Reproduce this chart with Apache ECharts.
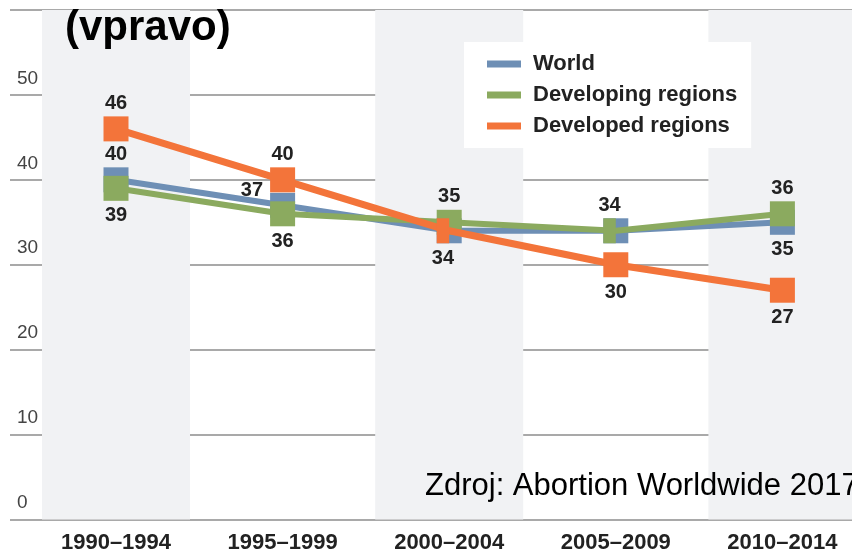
<!DOCTYPE html>
<html>
<head>
<meta charset="utf-8">
<script src="https://cdn.jsdelivr.net/npm/echarts@6/dist/echarts.min.js"></script>
<style>html,body{margin:0;padding:0;background:#fff;}#c{width:852px;height:556px;}</style>
</head>
<body>
<div id="c"></div>
<script>
const categories = ['1990–1994', '1995–1999', '2000–2004', '2005–2009', '2010–2014'];
const world = [40, 37, 34, 34, 35];
const developing = [39, 36, 35, 34, 36];
const developed = [46, 40, 34, 30, 27];
const bandTop = [60, '-', 60, '-', 60];
const yMin = 0, yMax = 60, yStep = 10;
const worldLabelPos = ['top', 'left', null, null, 'bottom'];
const developingLabelPos = ['bottom', 'bottom', 'top', 'top', 'top'];
const developedLabelPos = ['top', 'top', 'bottom', 'bottom', 'bottom'];

const FONT = '"Liberation Sans", Arial, sans-serif';
const C_WORLD = '#6E8FB5', C_DEV = '#8BAA5F', C_DEVD = '#F3743A';
const halfLeft = 'path://M0,0 L1,0 L1,2 L0,2 Z';

function items(values, positions, special) {
  return values.map(function (v, i) {
    const p = positions[i];
    const it = { value: v };
    if (p) {
      it.label = {
        show: true, position: p,
        distance: p === 'top' ? 3 : (p === 'left' ? 7 : 5),
        offset: p === 'left' ? [0, -15] : [0, 0]
      };
    } else {
      it.label = { show: false };
    }
    if (special && special[i]) Object.assign(it, special[i]);
    return it;
  });
}

const labelStyle = { fontFamily: FONT, fontWeight: 'bold', fontSize: 20, color: '#222' };

const chart = echarts.init(document.getElementById('c'), null, { renderer: 'canvas' });
chart.setOption({
  animation: false,
  backgroundColor: '#fff',
  grid: [
    { left: 32.7, right: -13.7, top: 10, bottom: 36.5, outerBoundsMode: 'none', containLabel: false },
    { left: 10, right: 0, top: 10, bottom: 36.5, outerBoundsMode: 'none', containLabel: false }
  ],
  xAxis: [
    {
      type: 'category', gridIndex: 0, data: categories, boundaryGap: true,
      axisLine: { show: false }, axisTick: { show: false },
      axisLabel: { fontFamily: FONT, fontWeight: 'bold', fontSize: 22, color: '#222', margin: 12 },
      splitLine: { show: false }
    },
    { type: 'value', gridIndex: 1, show: false }
  ],
  yAxis: [
    { type: 'value', gridIndex: 0, min: yMin, max: yMax, show: false, splitLine: { show: false } },
    {
      type: 'value', gridIndex: 1, min: yMin, max: yMax, interval: yStep,
      axisLine: { show: false }, axisTick: { show: false },
      axisLabel: {
        inside: true, margin: 7, fontFamily: FONT, fontSize: 19, color: '#444',
        verticalAlign: 'bottom', padding: [0, 0, 7, 0]
      },
      splitLine: { show: true, lineStyle: { color: '#8c8c8c', width: 1.5 } }
    }
  ],
  legend: {
    data: ['World', 'Developing regions', 'Developed regions'],
    orient: 'vertical', left: 464, top: 42,
    padding: [11, 14, 11, 23], itemGap: 9,
    itemWidth: 34, itemHeight: 7, icon: 'rect',
    backgroundColor: '#fff',
    textStyle: { fontFamily: FONT, fontWeight: 'bold', fontSize: 22, color: '#222', lineHeight: 22, padding: [0, 0, 0, 7] }
  },
  graphic: [
    { type: 'text', left: 65, top: 7, z: 100, style: { text: '(vpravo)', font: 'bold 42px ' + FONT, fill: '#000' } },
    { type: 'text', x: 425, y: 486, z: 100, style: { text: 'Zdroj: Abortion Worldwide 2017', font: '31px ' + FONT, fill: '#000', textVerticalAlign: 'middle' } }
  ],
  series: [
    {
      name: 'bands', type: 'bar', xAxisIndex: 0, yAxisIndex: 0, data: bandTop,
      barWidth: 148, silent: true, itemStyle: { color: '#F1F2F4' }, z: 0
    },
    {
      name: 'World', type: 'line', xAxisIndex: 0, yAxisIndex: 0,
      data: items(world, worldLabelPos),
      color: C_WORLD, lineStyle: { width: 6, color: C_WORLD },
      symbol: 'rect', symbolSize: 25, itemStyle: { color: C_WORLD },
      label: labelStyle, z: 3
    },
    {
      name: 'Developing regions', type: 'line', xAxisIndex: 0, yAxisIndex: 0,
      data: items(developing, developingLabelPos, { 3: { symbol: halfLeft, symbolSize: [12.5, 25], symbolOffset: [-6.25, 0] } }),
      color: C_DEV, lineStyle: { width: 6, color: C_DEV },
      symbol: 'rect', symbolSize: 25, itemStyle: { color: C_DEV },
      label: labelStyle, z: 4
    },
    {
      name: 'Developed regions', type: 'line', xAxisIndex: 0, yAxisIndex: 0,
      data: items(developed, developedLabelPos, { 2: { symbol: halfLeft, symbolSize: [12.5, 25], symbolOffset: [-6.25, 0] } }),
      color: C_DEVD, lineStyle: { width: 7, color: C_DEVD },
      symbol: 'rect', symbolSize: 25, itemStyle: { color: C_DEVD },
      label: labelStyle, z: 5
    }
  ]
});
</script>
</body>
</html>
